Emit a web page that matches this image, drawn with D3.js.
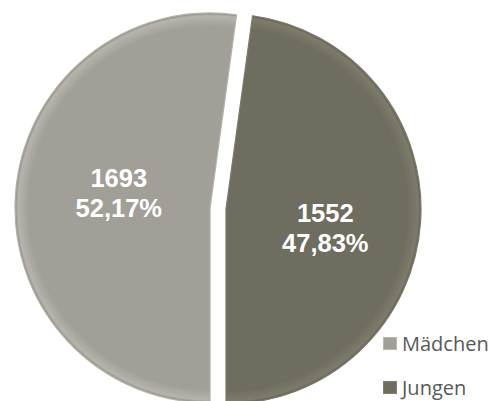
<!DOCTYPE html>
<html><head><meta charset="utf-8">
<script src="https://cdn.jsdelivr.net/npm/d3@7"></script>
<style>body{margin:0;background:#fff}svg{display:block}</style>
</head><body>
<svg id="c" width="494" height="401"></svg>
<script>
const categories = ["Mädchen", "Jungen"];
const values = [1693, 1552];
const percentLabels = ["52,17%", "47,83%"];
const colors = ["#a19f98", "#6f6d5f"];
const explode = [16, 0];

const svg = d3.select("#c");
const cx = 226, cy = 209, r = 195;
const defs = svg.append("defs");
colors.forEach((c, i) => {
  const g = defs.append("radialGradient").attr("id", "g" + i)
    .attr("gradientUnits", "userSpaceOnUse").attr("cx", 0).attr("cy", 0).attr("r", r);
  g.append("stop").attr("offset", "0.93").attr("stop-color", c);
  g.append("stop").attr("offset", "0.985").attr("stop-color", d3.color(c).brighter(0.35));
  g.append("stop").attr("offset", "1").attr("stop-color", d3.color(c).darker(0.4));
});

const pie = d3.pie().sort(null).startAngle(Math.PI).endAngle(3 * Math.PI);
const arcs = pie(values);
const arc = d3.arc().innerRadius(0).outerRadius(r);
const labelArc = d3.arc().innerRadius(r * 0.5).outerRadius(r * 0.5);
const labelNudge = [[6, -14], [2, 6]];

const g = svg.append("g").attr("transform", `translate(${cx},${cy})`);
arcs.forEach((a, i) => {
  const mid = (a.startAngle + a.endAngle) / 2;
  const dx = Math.sin(mid) * explode[i], dy = -Math.cos(mid) * explode[i];
  const sg = g.append("g").attr("transform", `translate(${dx},${dy})`);
  sg.append("path").attr("d", arc(a)).attr("fill", `url(#g${i})`)
    .attr("stroke", d3.color(colors[i]).brighter(0.3)).attr("stroke-width", 1.2);
  let [lx, ly] = labelArc.centroid(a);
  lx += labelNudge[i][0]; ly += labelNudge[i][1];
  const t = sg.append("text").attr("text-anchor", "middle")
    .attr("font-family", "Liberation Sans, Arial, sans-serif")
    .attr("font-weight", "bold").attr("font-size", 25.5).attr("fill", "#fff");
  t.append("tspan").attr("x", lx).attr("y", ly).text(values[i]);
  t.append("tspan").attr("x", lx).attr("y", ly + 30).text(percentLabels[i]);
});

const leg = svg.append("g");
categories.forEach((c, i) => {
  const y = 351 + i * 44;
  leg.append("rect").attr("x", 383.5).attr("y", y - 13.5).attr("width", 13).attr("height", 12)
    .attr("fill", colors[i]).attr("stroke", d3.color(colors[i]).brighter(0.4)).attr("stroke-width", 1);
  leg.append("text").attr("x", 402).attr("y", y)
    .attr("font-family", "Open Sans, Liberation Sans, sans-serif")
    .attr("font-size", 20).attr("fill", "#595959").text(c);
});
</script>
</body></html>
